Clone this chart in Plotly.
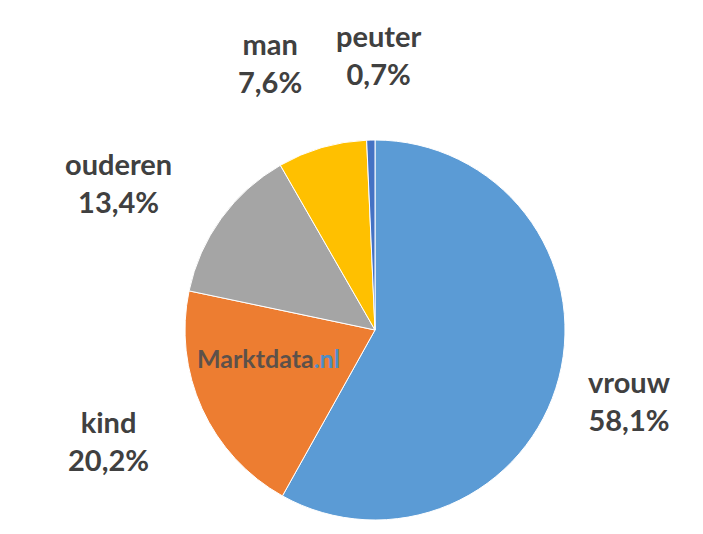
import plotly.graph_objects as go

categories = ["vrouw", "kind", "ouderen", "man", "peuter"]
values = [58.1, 20.2, 13.4, 7.6, 0.7]
value_labels = ["58,1%", "20,2%", "13,4%", "7,6%", "0,7%"]
colors = ["#5B9BD5", "#ED7D31", "#A5A5A5", "#FFC000", "#4472C4"]

W, H = 703, 534
cx, cy, r = 367, 322, 190

fig = go.Figure(go.Pie(
    labels=categories, values=values, sort=False, direction="clockwise",
    rotation=0, textinfo="none", hoverinfo="label+percent",
    marker=dict(colors=colors, line=dict(color="white", width=1)),
    showlegend=False,
    domain=dict(x=[(cx - r) / W, (cx + r) / W], y=[(H - cy - r) / H, (H - cy + r) / H]),
))

label_pos = {"vrouw": (621, 392), "kind": (100, 432), "ouderen": (110, 174),
             "man": (262, 54), "peuter": (370, 47)}
for cat, lab in zip(categories, value_labels):
    x, y = label_pos[cat]
    fig.add_annotation(x=x / W, y=1 - y / H, xref="paper", yref="paper",
                       text=f"<b>{cat}<br>{lab}</b>", showarrow=False,
                       font=dict(family="Lato", size=29, color="#404040"),
                       xanchor="center", yanchor="middle", align="center")

fig.add_annotation(x=260 / W, y=1 - 350 / H, xref="paper", yref="paper",
                   text="<b>Marktdata<span style='color:#3d8fd6'>.nl</span></b>",
                   showarrow=False, font=dict(family="Lato", size=25, color="#4d4d4d"),
                   xanchor="center", yanchor="middle", opacity=0.9)

fig.update_layout(width=W, height=H, margin=dict(l=0, r=0, t=0, b=0),
                  paper_bgcolor="white", plot_bgcolor="white")
fig.write_html("out.html")
